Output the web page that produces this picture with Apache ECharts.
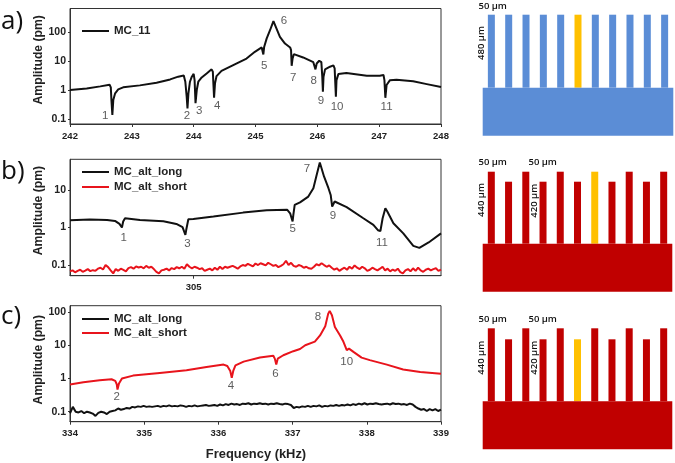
<!DOCTYPE html>
<html>

<head>
    <meta charset="UTF-8">
    <title>MC amplitude spectra</title>
    <script src="https://cdn.jsdelivr.net/npm/echarts@6/dist/echarts.min.js"></script>
    <style>
    html,
    body {
        margin: 0;
        padding: 0;
        background: #fff;
    }

    #chart {
        width: 675px;
        height: 463px;
    }
    </style>
</head>

<body>
    <div id="chart"></div>
    <script>
    // panel a: [frequency kHz, amplitude pm]
    var mc11 = [
        [242, 1.0], [242.27, 1.14], [242.49, 1.34], [242.64, 1.53], [242.66, 1.24], [242.67, 0.45], [242.685, 0.137],
        [242.7, 0.45], [242.73, 0.77], [242.78, 1.05], [242.86, 1.24], [243.13, 1.45], [243.4, 1.8], [243.62, 2.33],
        [243.75, 2.9], [243.84, 3.2], [243.865, 1.94], [243.887, 0.59], [243.9, 0.233], [243.915, 0.77], [243.94, 1.94],
        [243.97, 2.9], [244, 3.65], [244.015, 2.2], [244.03, 0.35], [244.05, 1.0], [244.075, 1.94], [244.13, 2.73],
        [244.21, 3.76], [244.29, 5.2], [244.31, 4.3], [244.32, 1.49], [244.33, 0.54], [244.345, 1.7], [244.37, 3.04],
        [244.45, 4.6], [244.64, 7.3], [244.855, 12.3], [244.99, 21], [245.1, 29.7], [245.115, 25.9], [245.127, 17],
        [245.14, 31], [245.18, 60], [245.235, 117], [245.29, 240], [245.305, 228], [245.34, 133], [245.395, 69],
        [245.477, 40.6], [245.56, 29.7], [245.575, 24], [245.585, 6.9], [245.6, 12.4], [245.62, 17.4], [245.77, 13.4],
        [245.935, 9.2], [245.97, 5.2], [245.99, 8.3], [246.03, 10.3], [246.065, 9.2], [246.08, 2.9], [246.09, 0.88],
        [246.1, 2.9], [246.125, 5.2], [246.205, 6.4], [246.26, 7.1], [246.28, 5.6], [246.3, 0.59], [246.31, 2.2],
        [246.34, 3.56], [246.47, 3.85], [246.8, 3.12], [247.01, 3.12], [247.07, 3.3], [247.085, 2.2], [247.1, 0.54],
        [247.12, 1.49], [247.175, 2.2], [247.28, 2.27], [247.55, 2.0], [247.77, 1.6], [248, 1.27]
    ];
    var numbersA = [
        [242.57, 0.127, '1'], [243.89, 0.13, '2'], [244.09, 0.19, '3'], [244.38, 0.29, '4'], [245.14, 6.7, '5'],
        [245.46, 240, '6'], [245.61, 2.66, '7'], [245.94, 2.15, '8'], [246.06, 0.42, '9'], [246.32, 0.27, '10'],
        [247.12, 0.27, '11']
    ];

    // panel b
    var altLongB = [
        [304, 1.57], [304.16, 1.63], [304.3, 1.6], [304.364, 1.5], [304.4, 1.25], [304.42, 1.0], [304.43, 1.45],
        [304.445, 1.77], [304.566, 1.6], [304.755, 1.47], [304.86, 1.25], [304.91, 1.02], [304.933, 0.64], [304.94, 0.87],
        [304.957, 1.67], [304.997, 1.7], [305.16, 1.97], [305.4, 2.5], [305.59, 2.9], [305.757, 2.96], [305.78, 2.4],
        [305.8, 1.45], [305.806, 2.18], [305.817, 4.0], [305.86, 4.7], [305.927, 6.7], [305.968, 11.2], [305.995, 25.4],
        [306.02, 54], [306.03, 50], [306.054, 23], [306.09, 11.2], [306.108, 7.4], [306.12, 3.63], [306.14, 4.94],
        [306.156, 5.1], [306.237, 3.5], [306.372, 1.77], [306.453, 1.18], [306.49, 0.85], [306.51, 0.81], [306.528, 1.77],
        [306.55, 3.28], [306.566, 2.67], [306.615, 1.3], [306.695, 0.7], [306.776, 0.325], [306.825, 0.287], [306.9, 0.4],
        [307, 0.7]
    ];
    var altShortB = [
        .068, .072, .064, .07, .075, .066, .071, .078, .069, .073, .07, .08, .085, .076, .1, .088, .072, .06, .078, .07,
        .08, .074, .068, .083, .088, .08, .092, .086, .09, .082, .095, .085, .09, .078, .066, .06, .072, .075, .08, .072,
        .083, .078, .088, .082, .09, .08, .105, .09, .082, .09, .085, .078, .082, .07, .075, .08, .072, .085, .075, .09,
        .078, .09, .085, .09, .095, .088, .08, .092, .1, .095, .108, .1, .092, .11, .1, .112, .105, .098, .115, .105,
        .095, .1, .088, .095, .105, .13, .1, .115, .095, .09, .1, .095, .085, .09, .082, .08, .09, .105, .098, .112,
        .1, .09, .098, .085, .075, .082, .07, .078, .085, .075, .09, .08, .098, .085, .078, .09, .082, .07, .075, .085,
        .078, .072, .08, .09, .072, .08, .068, .076, .07, .08, .065, .06, .072, .078, .068, .082, .07, .085, .072, .066,
        .075, .08, .072, .078, .082, .07, .076
    ];
    var numbersB = [
        [304.434, 0.54, '1'], [304.949, 0.367, '3'], [305.8, 0.9, '5'], [305.917, 36.7, '7'], [306.127, 2.05, '9'],
        [306.523, 0.4, '11']
    ];

    // panel c
    var altShortC = [
        [334, 0.66], [334.18, 0.775], [334.4, 0.89], [334.56, 0.955], [334.61, 0.85], [334.63, 0.675], [334.64, 0.466],
        [334.66, 0.707], [334.7, 1.0], [334.85, 1.23], [335.21, 1.48], [335.57, 1.78], [335.84, 2.25], [336.07, 2.64],
        [336.12, 2.4], [336.16, 1.7], [336.18, 1.05], [336.2, 1.7], [336.23, 2.5], [336.34, 3.25], [336.56, 4.3],
        [336.74, 4.9], [336.76, 4.0], [336.78, 2.64], [336.8, 4.0], [336.875, 5.05], [337.01, 6.7], [337.1, 7.8],
        [337.17, 10.1], [337.3, 13], [337.37, 20], [337.44, 37.7], [337.48, 91], [337.5, 110], [337.53, 81], [337.57, 36],
        [337.64, 20], [337.68, 13.7], [337.73, 7.2], [337.76, 8], [337.82, 6.4], [337.93, 4.3], [338.04, 3.6],
        [338.27, 2.64], [338.49, 1.87], [338.72, 1.59], [339, 1.41]
    ];
    var altLongC = [
        .09, .14, .1, .095, .105, .09, .1, .095, .088, .075, .092, .1, .095, .085, .1,
        .105, .11, .125, .115, .12, .13, .125, .14, .135, .145, .14, .15, .14, .145, .14,
        .145, .15, .14, .15, .145, .155, .145, .15, .145, .155,
        .15, .14, .15, .145, .155, .145, .15, .155, .16, .15,
        .155, .16, .15, .165, .155, .17, .16, .175, .165, .17,
        .16, .175, .17, .18, .165, .175, .17, .18, .17, .175,
        .165, .175, .17, .18, .17, .165, .175, .17, .16, .13,
        .14, .135, .145, .14, .15, .14, .15, .145, .155, .14, .15, .145, .155, .15, .16, .15, .16, .155, .165, .155,
        .17, .16, .175, .165, .18, .165, .175, .17, .18, .17, .165, .17, .175, .165, .18, .17, .175, .165, .17, .16,
        .175, .165, .14, .125, .115, .12, .105, .12, .11, .12, .105, .115
    ];
    var numbersC = [
        [334.63, 0.28, '2'], [336.17, 0.587, '4'], [336.77, 1.41, '6'], [337.34, 74, '8'], [337.73, 3.25, '10']
    ];

    var ticksA = [242, 243, 244, 245, 246, 247, 248];
    var ticksB = [305];
    var ticksC = [334, 335, 336, 337, 338, 339];
    var decades = [0.1, 1, 10, 100];

    // schematics: drawn finger lengths, same units as the picture
    var fingersA = [73, 73, 73, 73, 73, 73, 73, 73, 73, 73, 73];
    var fingersB = [72, 62, 72, 62, 72, 62, 72, 62, 72, 62, 72];
    var fingersC = [73, 62, 73, 62, 73, 62, 73, 62, 73, 62, 73];
    var baseDepth = [48];

    var INK = '#222';
    var FONT = '"Liberation Sans", Arial, sans-serif';
    var grids = [], xAxes = [], yAxes = [], series = [], legends = [];

    function evenX(values, min, max) {
        return values.map(function(v, i) {
            return [min + i * (max - min) / (values.length - 1), v];
        });
    }

    function addPlot(rect, xMin, xMax, xTicks, yMin, yMax, yTicks, nameShift, lines, numbers) {
        var idx = grids.length;
        grids.push({
            show: true,
            left: rect[0],
            top: rect[1],
            width: rect[2],
            height: rect[3],
            borderColor: '#333',
            borderWidth: 1,
            backgroundColor: 'transparent'
        });
        xAxes.push({
            gridIndex: idx,
            type: 'value',
            min: xMin,
            max: xMax,
            splitLine: { show: false },
            axisLine: { show: true, lineStyle: { color: '#333' } },
            axisTick: { show: true, length: 3, customValues: xTicks, lineStyle: { color: '#333' } },
            axisLabel: {
                customValues: xTicks,
                color: INK,
                fontFamily: FONT,
                fontWeight: 'bold',
                fontSize: 9.5,
                margin: 7
            }
        });
        yAxes.push({
            gridIndex: idx,
            type: 'log',
            logBase: 10,
            min: yMin,
            max: yMax,
            name: 'Amplitude (pm)',
            nameLocation: 'middle',
            nameGap: 25,
            nameMoveOverlap: false,
            nameTextStyle: {
                color: INK,
                fontFamily: FONT,
                fontWeight: 'bold',
                fontSize: 12.2,
                padding: [0, 0, 0, nameShift]
            },
            splitLine: { show: false },
            axisLine: { show: true, lineStyle: { color: '#333' } },
            axisTick: { show: true, length: 2, customValues: yTicks, lineStyle: { color: '#333' } },
            axisLabel: {
                customValues: yTicks,
                color: INK,
                fontFamily: FONT,
                fontWeight: 'bold',
                fontSize: 10.5,
                margin: 4,
                formatter: function(v) { return String(v); }
            }
        });
        lines.forEach(function(l) {
            series.push({
                name: l.name,
                type: 'line',
                xAxisIndex: idx,
                yAxisIndex: idx,
                data: l.data,
                showSymbol: false,
                symbol: 'none',
                smooth: false,
                animation: false,
                lineStyle: { color: l.color, width: 2 },
                itemStyle: { color: l.color }
            });
        });
        series.push({
            type: 'scatter',
            xAxisIndex: idx,
            yAxisIndex: idx,
            data: numbers,
            symbolSize: 0,
            silent: true,
            animation: false,
            label: {
                show: true,
                position: 'inside',
                color: '#333',
                fontFamily: FONT,
                fontSize: 11.5,
                formatter: function(p) { return p.value[2]; }
            }
        });
        legends.push({
            left: 77,
            top: rect[4],
            orient: 'vertical',
            icon: 'rect',
            itemWidth: 27,
            itemHeight: 2,
            itemGap: rect[5],
            selectedMode: false,
            data: lines.map(function(l) { return l.name; }),
            textStyle: {
                color: INK,
                fontFamily: FONT,
                fontWeight: 'bold',
                fontSize: 11.5
            }
        });
    }

    // one drawing of the beam array: fingers go up from 0, the base goes down from 0
    function addSketch(rect, fingers, highlight, color, top) {
        var idx = grids.length;
        var names = fingers.map(function(v, i) { return String(i); });
        grids.push({ left: rect[0], top: rect[1], width: rect[2], height: rect[3] });
        xAxes.push({ gridIndex: idx, type: 'category', data: names, show: false });
        yAxes.push({ gridIndex: idx, type: 'value', min: -baseDepth[0], max: top, show: false, splitLine: { show: false } });
        xAxes.push({ gridIndex: idx, type: 'category', data: ['base'], show: false });
        series.push({
            type: 'bar',
            xAxisIndex: xAxes.length - 2,
            yAxisIndex: yAxes.length - 1,
            barWidth: 7,
            animation: false,
            silent: true,
            data: fingers.map(function(v, i) {
                return { value: v, itemStyle: { color: i === highlight ? '#FFC000' : color } };
            })
        });
        series.push({
            type: 'bar',
            xAxisIndex: xAxes.length - 1,
            yAxisIndex: yAxes.length - 1,
            barWidth: '100%',
            animation: false,
            silent: true,
            itemStyle: { color: color },
            data: [-baseDepth[0]]
        });
    }

    function note(text, x, y, rotate) {
        return {
            type: 'text',
            x: x,
            y: y,
            rotation: rotate ? Math.PI / 2 : 0,
            style: {
                text: text,
                fill: '#111',
                font: '600 9.5px "Open Sans", sans-serif',
                align: 'center',
                verticalAlign: 'middle'
            }
        };
    }

    function panel(text, x, y) {
        return {
            type: 'text',
            x: x,
            y: y,
            style: {
                text: text,
                fill: '#111',
                font: '26px "Open Sans", sans-serif',
                align: 'left',
                verticalAlign: 'middle'
            }
        };
    }

    addPlot([70, 8.5, 371, 115.5, 20, 0], 242, 248, ticksA, 0.067, 660, decades, 13, [
        { name: 'MC_11', data: mc11, color: '#111' }
    ], numbersA);
    addPlot([70, 159.3, 371, 116.4, 161, 3], 304, 307, ticksB, 0.052, 66, [0.1, 1, 10], 14, [
        { name: 'MC_alt_long', data: altLongB, color: '#111' },
        { name: 'MC_alt_short', data: evenX(altShortB, 304, 307), color: '#e8141c' }
    ], numbersB);
    addPlot([70, 305.7, 371, 116, 308, 2], 334, 339, ticksC, 0.05, 158, decades, 8, [
        { name: 'MC_alt_long', data: evenX(altLongC, 334, 339), color: '#111' },
        { name: 'MC_alt_short', data: altShortC, color: '#e8141c' }
    ], numbersC);

    addSketch([482.7, 14.7, 190.6, 121], fingersA, 5, '#5B8DD6', 73);
    addSketch([482.7, 171.7, 189.6, 120], fingersB, 6, '#C00000', 72);
    addSketch([482.7, 328.3, 189.6, 121], fingersC, 5, '#C00000', 73);

    var chart = echarts.init(document.getElementById('chart'), null, { renderer: 'canvas' });
    chart.setOption({
        animation: false,
        backgroundColor: '#fff',
        grid: grids,
        xAxis: xAxes,
        yAxis: yAxes,
        legend: legends,
        series: series,
        graphic: [
            panel('a)', 1, 22),
            panel('b)', 1, 172),
            panel('c)', 1, 317),
            { type: 'text', x: 256, y: 454, style: { text: 'Frequency (kHz)', fill: INK, font: 'bold 12.9px "Liberation Sans"', align: 'center', verticalAlign: 'middle' } },
            note('50 µm', 492.7, 6),
            note('480 µm', 481.7, 43, true),
            note('50 µm', 492.7, 162.7),
            note('50 µm', 542.7, 162.7),
            note('440 µm', 481.7, 200, true),
            note('420 µm', 534.7, 200.7, true),
            note('50 µm', 492.7, 319.7),
            note('50 µm', 542.7, 319.7),
            note('440 µm', 481.7, 357.7, true),
            note('420 µm', 534.7, 357.7, true)
        ]
    });
    </script>
</body>

</html>
